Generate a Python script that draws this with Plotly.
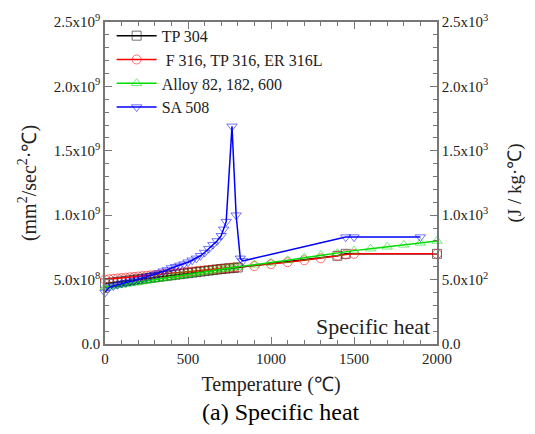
import plotly.graph_objects as go

# Temperatures (°C)
t_dense = [0, 25, 50, 75, 100, 125, 150, 175, 200, 225, 250, 275, 300, 325, 350, 375, 400,
           425, 450, 475, 500, 525, 550, 575, 600, 625, 650, 675, 700, 725, 750, 775, 800]

# Specific heat in units of 1e9 mm^2/sec^2.C (== 1e3 J/kg.C)
tp304_t = t_dense + [1400, 1450, 2000]
tp304_v = [0.47, 0.474, 0.478, 0.482, 0.486, 0.49, 0.494, 0.498, 0.502, 0.506, 0.51, 0.514,
           0.518, 0.522, 0.526, 0.53, 0.534, 0.538, 0.542, 0.546, 0.55, 0.554, 0.558, 0.562,
           0.566, 0.57, 0.574, 0.578, 0.582, 0.585, 0.588, 0.591, 0.594,
           0.685, 0.70, 0.70]

f316_t = t_dense + [900, 1000, 1100, 1200, 1300, 1400, 1450, 1500, 2000]
f316_v = [0.50, 0.503, 0.506, 0.509, 0.512, 0.515, 0.518, 0.521, 0.524, 0.527, 0.53, 0.533,
          0.536, 0.539, 0.542, 0.545, 0.548, 0.551, 0.554, 0.557, 0.56, 0.563, 0.566, 0.569,
          0.572, 0.575, 0.578, 0.581, 0.584, 0.587, 0.59, 0.593, 0.596,
          0.605, 0.62, 0.635, 0.65, 0.665, 0.685, 0.695, 0.70, 0.70]

alloy_t = t_dense + [900, 1000, 1100, 1200, 1300, 1400, 1500, 1600, 1700, 1800, 1900, 2000]
alloy_v = [0.44, 0.445, 0.45, 0.455, 0.46, 0.465, 0.47, 0.475, 0.48, 0.485, 0.49, 0.495,
           0.50, 0.505, 0.51, 0.515, 0.52, 0.525, 0.53, 0.535, 0.54, 0.545, 0.55, 0.555,
           0.56, 0.565, 0.57, 0.575, 0.58, 0.585, 0.59, 0.595, 0.60,
           0.615, 0.63, 0.65, 0.67, 0.69, 0.705, 0.725, 0.74, 0.755, 0.77, 0.785, 0.80]

sa508_t = [0, 25, 50, 75, 100, 125, 150, 175, 200, 225, 250, 275, 300, 325, 350, 375, 400,
           425, 450, 475, 500, 525, 550, 575, 600, 625, 650, 675, 700, 715, 730, 765, 790,
           815, 830, 1450, 1500, 1900]
sa508_v = [0.40, 0.44, 0.45, 0.46, 0.47, 0.475, 0.485, 0.49, 0.50, 0.51, 0.52, 0.53, 0.54,
           0.55, 0.565, 0.575, 0.59, 0.60, 0.61, 0.62, 0.635, 0.65, 0.665, 0.685, 0.71, 0.74,
           0.77, 0.80, 0.84, 0.89, 0.95, 1.69, 1.00, 0.665, 0.645, 0.83, 0.83, 0.83]

left_tickvals = [0, 0.5, 1.0, 1.5, 2.0, 2.5]
left_ticktext = ["0.0", "5.0x10<sup>8</sup>", "1.0x10<sup>9</sup>", "1.5x10<sup>9</sup>",
                 "2.0x10<sup>9</sup>", "2.5x10<sup>9</sup>"]
right_ticktext = ["0.0", "5.0x10<sup>2</sup>", "1.0x10<sup>3</sup>", "1.5x10<sup>3</sup>",
                  "2.0x10<sup>3</sup>", "2.5x10<sup>3</sup>"]

series = [
    ("TP 304", tp304_t, tp304_v, "#000000", "square-open"),
    (" F 316, TP 316, ER 316L", f316_t, f316_v, "#ff0000", "circle-open"),
    ("Alloy 82, 182, 600", alloy_t, alloy_v, "#00dd00", "triangle-up-open"),
    ("SA 508", sa508_t, sa508_v, "#0000ff", "triangle-down-open"),
]

fig = go.Figure()
for name, t, v, col, sym in series:
    fig.add_trace(go.Scatter(
        x=t, y=v, name=name, mode="lines+markers",
        line=dict(color=col, width=1.5),
        marker=dict(symbol=sym, size=9, color=col, opacity=0.55, line=dict(width=1, color=col)),
        cliponaxis=False,
    ))
# invisible trace for right axis
fig.add_trace(go.Scatter(x=[0], y=[0], yaxis="y2", showlegend=False, mode="markers",
                         marker=dict(opacity=0), hoverinfo="skip"))

font_family = "Liberation Serif, Times New Roman, serif"
axcol = "#777777"
fig.update_layout(
    width=535, height=434,
    margin=dict(l=105, r=98, t=17, b=90),
    paper_bgcolor="white", plot_bgcolor="white",
    font=dict(family=font_family, size=15, color="#222222"),
    showlegend=True,
    legend=dict(x=0.02, y=1.01, xanchor="left", yanchor="top",
                bgcolor="rgba(0,0,0,0)", font=dict(size=16, family=font_family),
                tracegroupgap=0, itemwidth=40),
    xaxis=dict(range=[0, 2000], tickvals=[0, 500, 1000, 1500, 2000],
               ticks="inside", ticklen=7, tickcolor=axcol,
               showline=True, linecolor=axcol, linewidth=1.5, mirror="ticks",
               showgrid=False, zeroline=False,
               minor=dict(dtick=100, ticklen=4, ticks="inside", tickcolor=axcol, showgrid=False),
               tickfont=dict(size=15),
               title=dict(text="Temperature (℃)", font=dict(size=20), standoff=11)),
    yaxis=dict(range=[0, 2.5], tickvals=left_tickvals, ticktext=left_ticktext,
               ticks="inside", ticklen=7, tickcolor=axcol,
               showline=True, linecolor=axcol, linewidth=1.5,
               showgrid=False, zeroline=False,
               minor=dict(dtick=0.1, ticklen=4, ticks="inside", tickcolor=axcol, showgrid=False),
               tickfont=dict(size=15),
               title=dict(text="(mm<sup>2</sup>/sec<sup>2</sup>·℃)", font=dict(size=20), standoff=12)),
    yaxis2=dict(range=[0, 2.5], overlaying="y", side="right",
                tickvals=left_tickvals, ticktext=right_ticktext,
                ticks="inside", ticklen=7, tickcolor=axcol,
                showline=True, linecolor=axcol, linewidth=1.5,
                showgrid=False, zeroline=False,
                minor=dict(dtick=0.1, ticklen=4, ticks="inside", tickcolor=axcol, showgrid=False),
                tickfont=dict(size=15),
                title=dict(text="(J / kg·℃)", font=dict(size=19), standoff=20)),
    annotations=[
        dict(text="Specific heat", x=0.985, y=0.01, xref="paper", yref="paper",
             xanchor="right", yanchor="bottom", showarrow=False,
             font=dict(size=22, family=font_family, color="#222222")),
        dict(text="(a) Specific heat", x=0.53, y=-0.165, xref="paper", yref="paper",
             xanchor="center", yanchor="top", showarrow=False,
             font=dict(size=24, family=font_family, color="#000000")),
    ],
)

fig.write_html("out.html")
